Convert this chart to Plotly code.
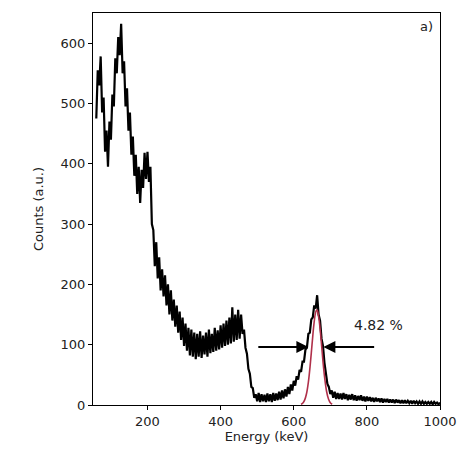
import plotly.graph_objects as go

energy = list(range(60, 1001, 4))
counts = [
    # 60 - 200
    475, 555, 530, 578, 485, 510, 420, 455, 395, 470,
    440, 515, 495, 575, 550, 610, 580, 632, 550, 570,
    495, 525, 455, 485, 415, 445, 380, 415, 350, 395,
    335, 390, 360, 418, 375, 420,
    # 204 - 300
    370, 395, 300, 290, 230, 270, 210, 245, 190, 225,
    180, 215, 165, 200, 150, 190, 140, 175, 130, 165,
    120, 155, 108, 145, 98,
    # 304 - 460
    135, 90, 128, 82, 125, 80, 120, 76, 118, 80,
    122, 78, 115, 84, 120, 80, 125, 86, 118, 88,
    128, 90, 124, 92, 132, 95, 135, 98, 140, 100,
    145, 102, 162, 105, 150, 108, 158, 110, 150, 118,
    # 464 - 600
    125, 95, 85, 60, 52, 30, 28, 12, 18, 6,
    20, 5, 18, 6, 17, 5, 19, 6, 18, 5,
    20, 7, 19, 8, 22, 9, 24, 11, 26, 14,
    30, 18, 34, 24, 40,
    # 604 - 720
    32, 48, 42, 58, 55, 72, 72, 92, 95, 118,
    120, 142, 145, 165, 160, 182, 150, 140, 110, 98,
    70, 55, 35, 30, 18, 24, 12, 22, 10, 20,
    # 724 - 1000
    10, 19, 9, 20, 10, 18, 8, 17, 9, 18,
    8, 16, 7, 15, 8, 16, 7, 14, 6, 14,
    7, 13, 6, 12, 5, 12, 6, 11, 5, 11,
    4, 10, 5, 10, 4, 9, 4, 9, 3, 9,
    4, 8, 3, 8, 3, 8, 3, 7, 3, 7,
    2, 7, 3, 6, 2, 6, 2, 6, 2, 5,
    2, 5, 2, 5, 1, 5, 2, 4, 1, 4,
]

fit_energy = [620, 625, 630, 635, 640, 645, 650, 655, 660, 663, 665, 670, 675, 680, 685, 690, 695, 700, 705]
fit_counts = [1.1, 3.2, 8.4, 19, 38, 66, 100, 133, 154, 158, 156, 138, 107, 72, 43, 22, 10, 3.9, 1.3]

x_ticks = [200, 400, 600, 800, 1000]
y_ticks = [0, 100, 200, 300, 400, 500, 600]
fwhm_label = "4.82 %"

font = "DejaVu Sans"
txt = "#222222"

fig = go.Figure()
fig.add_trace(go.Scatter(x=energy, y=counts, mode="lines",
                         line=dict(color="black", width=2.2), showlegend=False))
fig.add_trace(go.Scatter(x=fit_energy, y=fit_counts, mode="lines", line_shape="spline",
                         line=dict(color="#b0304a", width=1.6), showlegend=False))

arrow_y = 96
fig.add_annotation(x=640, y=arrow_y, ax=499, ay=arrow_y, xref="x", yref="y", axref="x", ayref="y",
                   text="", showarrow=True, arrowhead=2, arrowsize=1.2, arrowwidth=2, arrowcolor="black")
fig.add_annotation(x=681, y=arrow_y, ax=824, ay=arrow_y, xref="x", yref="y", axref="x", ayref="y",
                   text="", showarrow=True, arrowhead=2, arrowsize=1.2, arrowwidth=2, arrowcolor="black")
fig.add_annotation(x=832, y=132, xref="x", yref="y", text=fwhm_label, showarrow=False,
                   font=dict(family=font, size=14, color=txt))
fig.add_annotation(x=0.985, y=0.99, xref="paper", yref="paper", text="a)", showarrow=False,
                   xanchor="right", yanchor="top", font=dict(family=font, size=13, color=txt))

axis_common = dict(showline=True, linecolor="black", linewidth=1, mirror=True,
                   ticks="outside", ticklen=4, tickcolor="black", showgrid=False, zeroline=False,
                   tickfont=dict(family=font, size=13, color=txt))
fig.update_xaxes(range=[51, 1000], tickvals=x_ticks,
                 title=dict(text="Energy (keV)", font=dict(family=font, size=13, color=txt), standoff=2),
                 **axis_common)
fig.update_yaxes(range=[0, 650], tickvals=y_ticks,
                 title=dict(text="Counts (a.u.)", font=dict(family=font, size=13, color=txt), standoff=14),
                 **axis_common)
fig.update_layout(width=469, height=455, margin=dict(l=93, r=22, t=13, b=50),
                  plot_bgcolor="white", paper_bgcolor="white")
fig.write_html("out.html")
